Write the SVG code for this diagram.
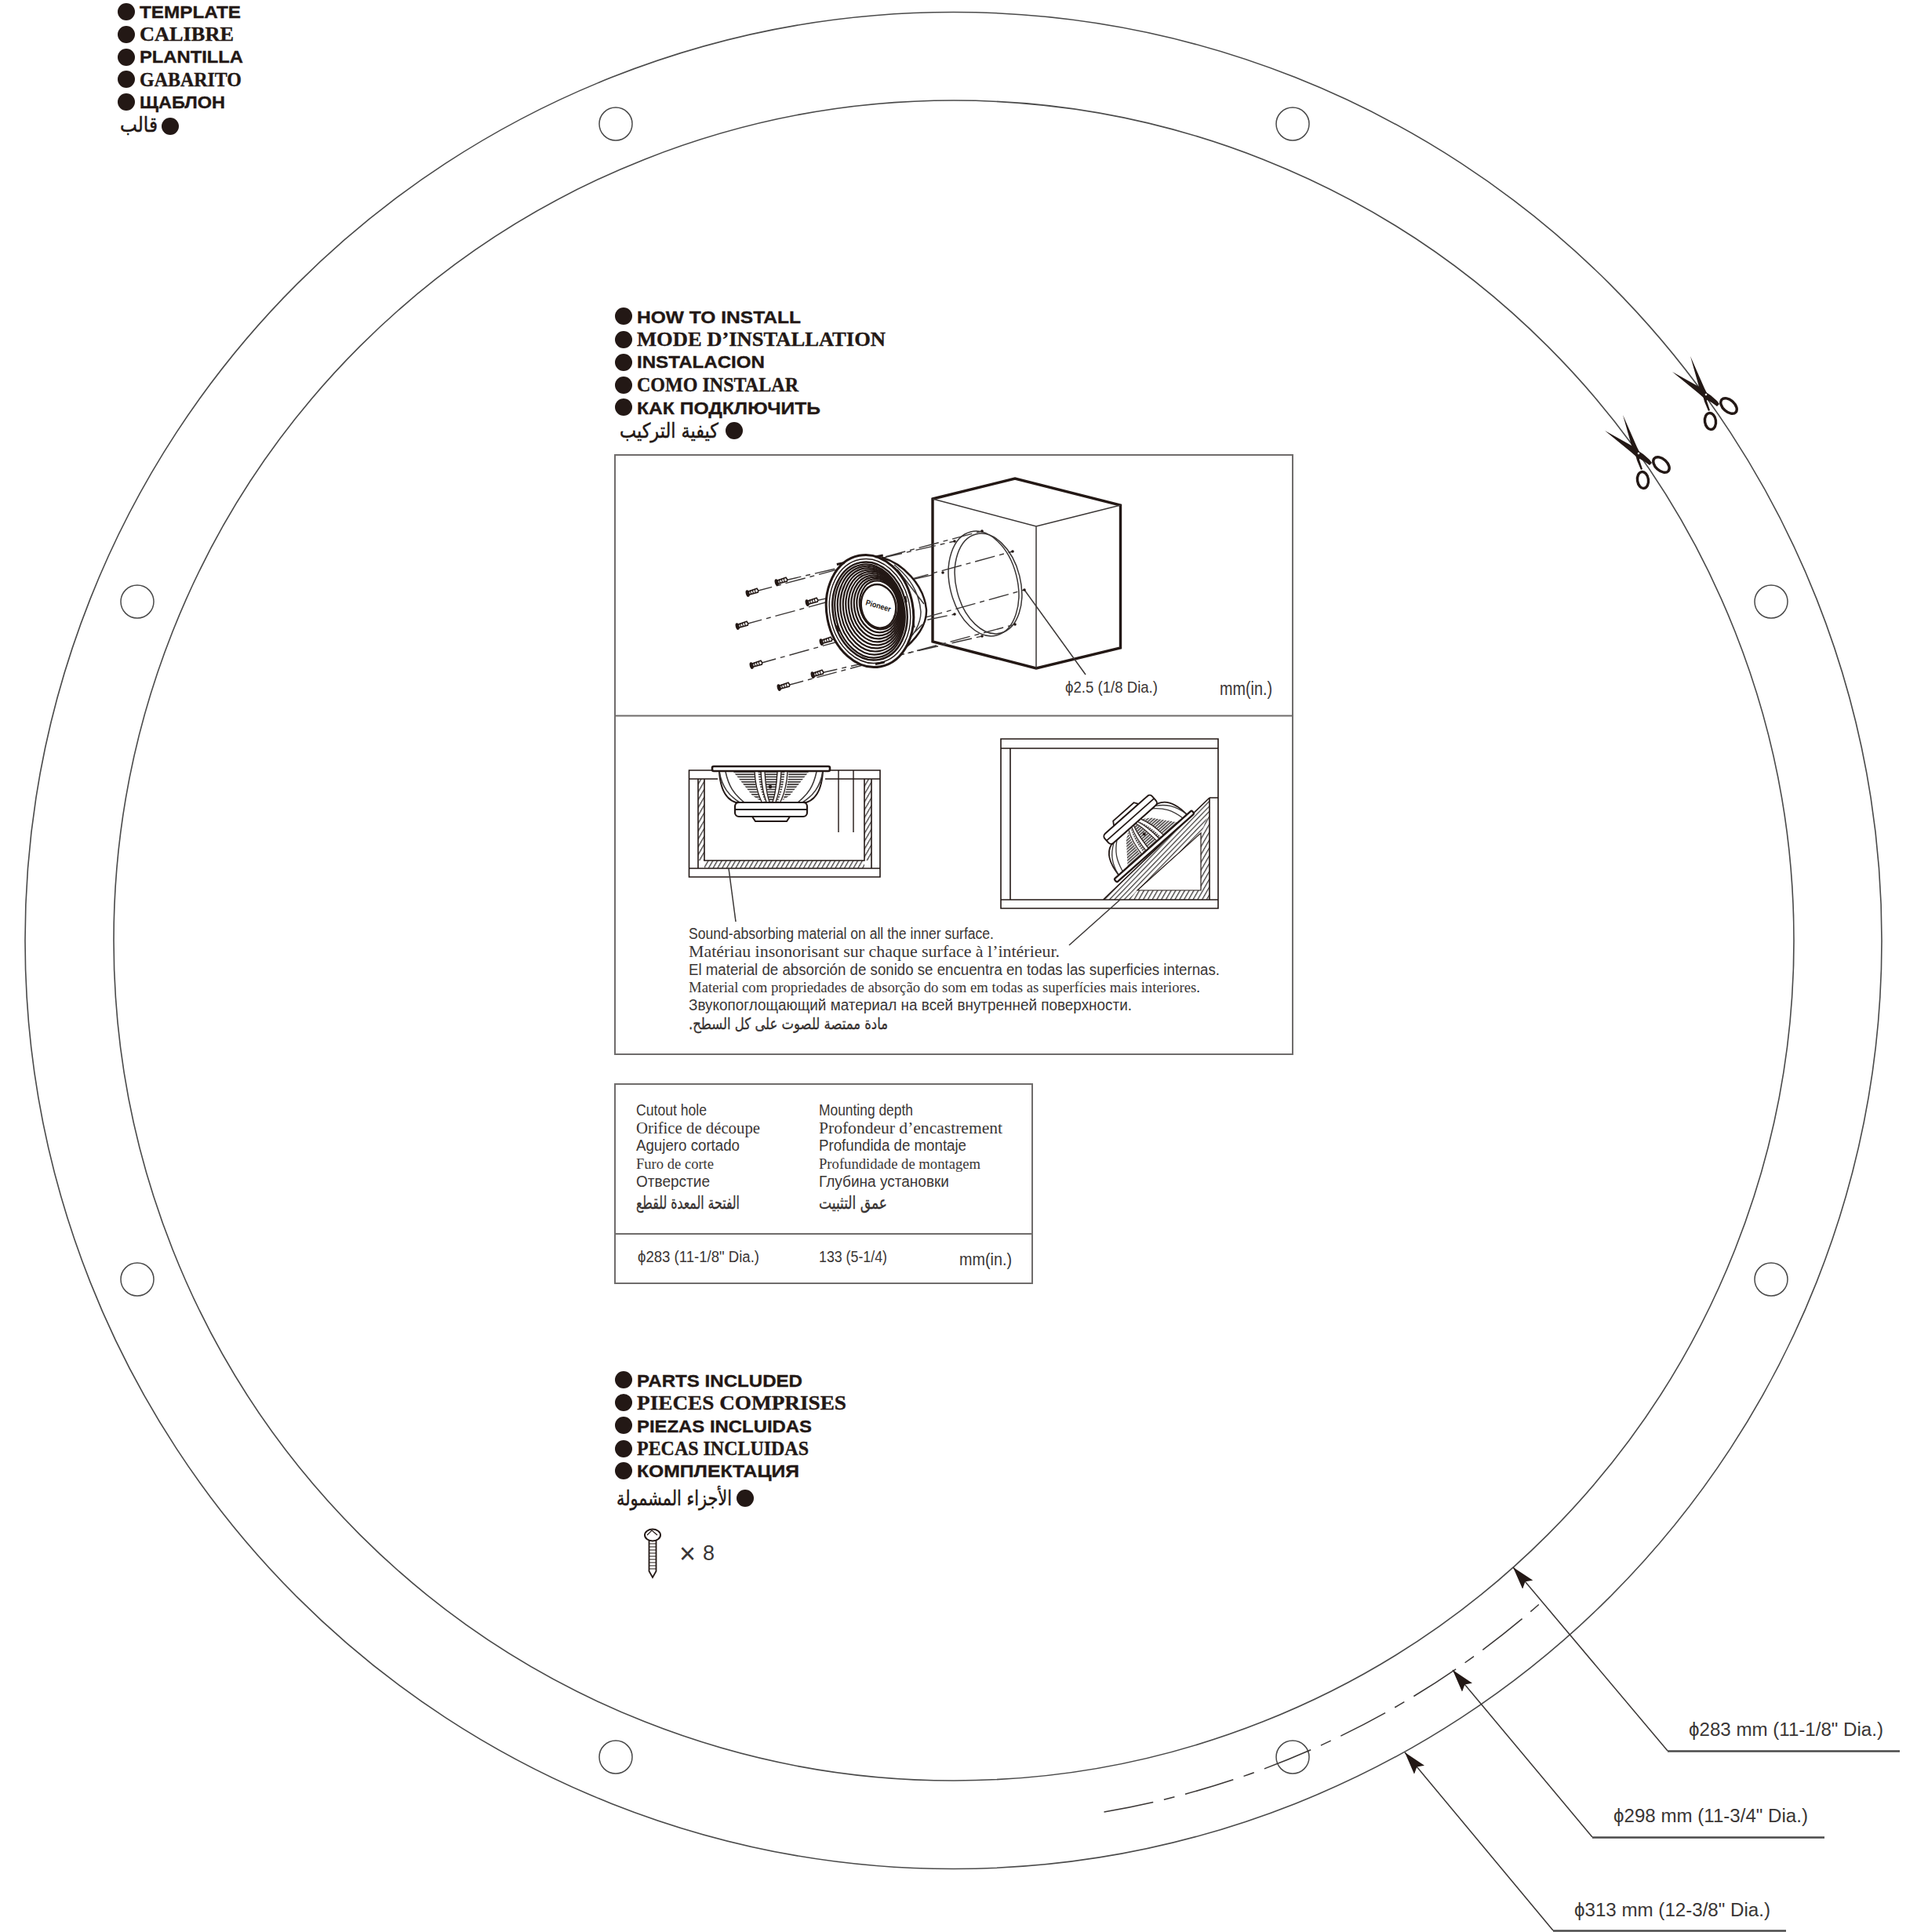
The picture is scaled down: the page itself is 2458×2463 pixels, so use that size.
<svg xmlns="http://www.w3.org/2000/svg" xmlns:xlink="http://www.w3.org/1999/xlink" width="2458" height="2463" viewBox="0 0 2458 2463">
<style>
text{fill:#231815}
.s{font-family:"Liberation Sans","DejaVu Sans",sans-serif}
.t{font-family:"Liberation Serif","DejaVu Serif",serif}
.a{font-family:"DejaVu Sans",sans-serif}
.h{font-size:22px;font-weight:bold;stroke:#231815;stroke-width:.35}
.t.h{font-size:25px}
.ah{font-size:26px;stroke:#231815;stroke-width:.5}
.b{font-size:20px;fill:#3a3635}
.d{font-size:23px;fill:#3a3635}
.ring{fill:none;stroke:#4a4a4a;stroke-width:1.6}
.hole{fill:#fff;stroke:#4a4a4a;stroke-width:1.5}
.box{fill:none;stroke:#6f6c6b;stroke-width:2}
.ln{fill:none;stroke:#3a3635;stroke-width:1.5}
.lk{fill:none;stroke:#231815;stroke-width:2}
.th{fill:#fff;stroke:#231815;stroke-width:3.4}
.dd{fill:none;stroke:#3a3635;stroke-width:1.4;stroke-dasharray:26 6 6 6}
.bul{fill:#231815}
</style>
<defs>
<marker id="arr" markerUnits="userSpaceOnUse" markerWidth="30" markerHeight="18" refX="29" refY="9" orient="auto"><path d="M0,0.500 L29,9 L0,17.500 L5,9z" fill="#231815"/></marker>
<pattern id="h1" width="5" height="5" patternUnits="userSpaceOnUse" patternTransform="rotate(30)"><rect width="5" height="5" fill="#fff"/><rect width="1.3" height="5" fill="#3a3635"/></pattern>
<pattern id="h3" width="4.500" height="4.500" patternUnits="userSpaceOnUse" patternTransform="rotate(-46)"><rect width="4.500" height="4.500" fill="#fff"/><rect width="4.500" height="1.200" fill="#3a3635"/></pattern>
<pattern id="h2" width="3.200" height="3.200" patternUnits="userSpaceOnUse"><rect width="3.200" height="3.200" fill="#fff"/><rect width="3.200" height="1.700" fill="#3a3635"/></pattern>
<g id="scrw">
<path d="M-6,-2 L7,-3 L8,0 L7,2 L-6,2z" fill="#fff" stroke="#231815" stroke-width="1.6"/>
<ellipse cx="-6" cy="0" rx="2.4" ry="4.4" fill="#231815"/>
<path d="M-2,-3V2M1,-3V2M4,-3V2" stroke="#231815" stroke-width="1.2"/>
</g>
<g id="spk">
<path d="M-66,3 C-65,22 -60,38 -45,43 L45,43 C60,38 65,22 66,3z" fill="#fff" stroke="#231815" stroke-width="2"/>
<path d="M-48,4 L-24,34 L-12,42 L12,42 L24,34 L48,4z" fill="url(#h2)"/>
<path d="M-62,4 C-58,22 -52,32 -38,42 M62,4 C58,22 52,32 38,42" fill="none" stroke="#fff" stroke-width="4"/>
<path d="M-66,4 C-62,24 -54,34 -40,43 M-58,4 C-54,22 -48,32 -34,43 M66,4 C62,24 54,34 40,43 M58,4 C54,22 48,32 34,43" class="ln"/>
<path d="M-19,4 C-18,20 -15,32 -10,42 M-10,4 C-9,20 -8,32 -4,42 M11,4 C10,20 9,32 4,42 M20,4 C19,20 16,32 11,42" fill="none" stroke="#fff" stroke-width="5"/>
<path d="M-21,4 C-20,20 -17,32 -12,42 M-13,4 C-12,20 -10,32 -6,42 M-8,4 C-7,20 -6,32 -2,42 M8,4 C7,20 6,32 2,42 M13,4 C12,20 10,32 6,42 M21,4 C20,20 17,32 12,42" class="lk" style="stroke-width:1.3"/>
<circle cx="-1" cy="23" r="2.2" fill="#231815"/>
<path d="M-24,61 H24 L20,67 H-20z" fill="#fff" stroke="#231815" stroke-width="2"/>
<rect x="-46" y="43" width="92" height="18" rx="5" fill="#fff" stroke="#231815" stroke-width="2.2"/>
<path d="M-46,52 H46" class="lk"/>
<rect x="-75" y="-3" width="150" height="6" rx="2" fill="#fff" stroke="#231815" stroke-width="2.6"/>
</g>
<g id="sci" fill="#231815">
<path d="M-20,-49 L-2,-8 L2,0 L1,8 L5,20 L3,21 L-2,9 L-5,-2 L-9,-10z"/>
<path d="M-43,-29 L-9,-10 L0,-3 L6,1 L14,8 L17,12 L14,15 L7,10 L-2,5 L-10,-2z"/>
<ellipse cx="29" cy="14.500" rx="12" ry="7.500" transform="rotate(42 29 14.500)" fill="none" stroke="#231815" stroke-width="3.400"/>
<ellipse cx="5.500" cy="34" rx="7" ry="10.500" transform="rotate(-8 5.500 34)" fill="none" stroke="#231815" stroke-width="3.400"/>
<circle cx="0" cy="0" r="1.300" fill="#fff"/>
</g>
</defs>
<rect width="2458" height="2463" fill="#fff"/>

<g id="template-rings">
<circle class="ring" cx="1215.500" cy="1199" r="1183.500"/>
<circle class="ring" cx="1216" cy="1199" r="1071"/>
</g>

<g id="holes">
<circle class="hole" cx="785" cy="158" r="21"/><circle class="hole" cx="1648" cy="158" r="21"/>
<circle class="hole" cx="175" cy="767" r="21"/><circle class="hole" cx="2258" cy="767" r="21"/>
<circle class="hole" cx="175" cy="1631" r="21"/><circle class="hole" cx="2258" cy="1631" r="21"/>
<circle class="hole" cx="785" cy="2240" r="21"/><circle class="hole" cx="1648" cy="2240" r="21"/>
</g>

<g id="connectors">
<path d="M1407.500,2310 A1128,1128 0 0 0 1968,2040" fill="none" stroke="#3a3635" stroke-width="1.5" stroke-dasharray="64 14 14 14"/>
<path class="ln" d="M2126,2232 L1929,1998" marker-end="url(#arr)"/>
<path class="ln" d="M2030,2342 L1852,2129" marker-end="url(#arr)"/>
<path class="ln" d="M1980,2461 L1791,2234" marker-end="url(#arr)"/>
<path d="M2126,2232.500 H2422 M2030,2342.500 H2326 M1980,2461.500 H2277" stroke="#4a4a4a" stroke-width="2.400" fill="none"/>
</g>

<g id="scissors">
<use xlink:href="#sci" href="#sci" transform="translate(2089,578)"/>
<use xlink:href="#sci" href="#sci" transform="translate(2175,503)"/>
</g>

<g id="title-template">
<circle class="bul" cx="161" cy="15" r="11"/><circle class="bul" cx="161" cy="44" r="11"/><circle class="bul" cx="161" cy="73" r="11"/><circle class="bul" cx="161" cy="101" r="11"/><circle class="bul" cx="161" cy="130" r="11"/><circle class="bul" cx="217" cy="161" r="11"/>
<text class="s h" x="178" y="23" textLength="129" lengthAdjust="spacingAndGlyphs">TEMPLATE</text>
<text class="t h" x="178" y="52" textLength="120" lengthAdjust="spacingAndGlyphs">CALIBRE</text>
<text class="s h" x="178" y="80" textLength="132" lengthAdjust="spacingAndGlyphs">PLANTILLA</text>
<text class="t h" x="178" y="110" textLength="130" lengthAdjust="spacingAndGlyphs">GABARITO</text>
<text class="s h" x="178" y="138" textLength="109" lengthAdjust="spacingAndGlyphs">ЩАБЛОН</text>
<text class="a ah" x="153" y="168" textLength="48" lengthAdjust="spacingAndGlyphs">قالب</text>
</g>

<g id="title-install">
<circle class="bul" cx="795" cy="403" r="11"/><circle class="bul" cx="795" cy="433" r="11"/><circle class="bul" cx="795" cy="462" r="11"/><circle class="bul" cx="795" cy="491" r="11"/><circle class="bul" cx="795" cy="519" r="11"/><circle class="bul" cx="936" cy="549" r="11"/>
<text class="s h" x="812" y="412" textLength="209" lengthAdjust="spacingAndGlyphs">HOW TO INSTALL</text>
<text class="t h" x="812" y="441" textLength="317" lengthAdjust="spacingAndGlyphs">MODE D’INSTALLATION</text>
<text class="s h" x="812" y="469" textLength="163" lengthAdjust="spacingAndGlyphs">INSTALACION</text>
<text class="t h" x="812" y="499" textLength="206" lengthAdjust="spacingAndGlyphs">COMO INSTALAR</text>
<text class="s h" x="812" y="528" textLength="234" lengthAdjust="spacingAndGlyphs">КАК ПОДКЛЮЧИТЬ</text>
<text class="a ah" x="790" y="558" textLength="126" lengthAdjust="spacingAndGlyphs">كيفية التركيب</text>
</g>

<g id="install-panel">
<rect class="box" x="784" y="580" width="864" height="764"/>
<path class="box" d="M784,912.500 H1648"/>
</g>

<g id="cabinet-exploded">
<path class="dd" d="M1035,767 L1202,730"/>
<path class="th" d="M1189,636 L1294,610 L1428.500,644 V826 L1321,852 L1189,818z"/>
<path class="ln" d="M1189,636 L1321,671 L1428.500,644 M1321,671 V852"/>
<ellipse class="ln" cx="1254" cy="744" rx="43" ry="68" transform="rotate(-14 1254 744)"/>
<ellipse class="ln" cx="1260" cy="744" rx="41" ry="65" transform="rotate(-14 1260 744)"/>
<path class="dd" d="M959,755 L1252,677"/>
<path class="dd" d="M996,741 L1217,690"/>
<path class="dd" d="M946,797 L1291,703"/>
<path class="dd" d="M1053,817 L1217,783"/>
<path class="dd" d="M964,847 L1306,752"/>
<path class="dd" d="M1042,859 L1252,811"/>
<path class="dd" d="M999,875 L1294,796"/>
<path class="ln" d="M1306,752 L1384,860"/>
<circle cx="1252" cy="677" r="1.800" fill="#231815"/><circle cx="1217" cy="690" r="1.800" fill="#231815"/><circle cx="1291" cy="703" r="1.800" fill="#231815"/><circle cx="1202" cy="730" r="1.800" fill="#231815"/><circle cx="1217" cy="783" r="1.800" fill="#231815"/><circle cx="1306" cy="752" r="1.800" fill="#231815"/><circle cx="1252" cy="811" r="1.800" fill="#231815"/><circle cx="1294" cy="796" r="1.800" fill="#231815"/>
<g transform="rotate(-15 959 755)"><use xlink:href="#scrw" href="#scrw" x="959" y="755"/></g>
<g transform="rotate(-15 996 741)"><use xlink:href="#scrw" href="#scrw" x="996" y="741"/></g>
<g transform="rotate(-15 1035 767)"><use xlink:href="#scrw" href="#scrw" x="1035" y="767"/></g>
<g transform="rotate(-15 946 797)"><use xlink:href="#scrw" href="#scrw" x="946" y="797"/></g>
<g transform="rotate(-15 1053 817)"><use xlink:href="#scrw" href="#scrw" x="1053" y="817"/></g>
<g transform="rotate(-15 964 847)"><use xlink:href="#scrw" href="#scrw" x="964" y="847"/></g>
<g transform="rotate(-15 1042 859)"><use xlink:href="#scrw" href="#scrw" x="1042" y="859"/></g>
<g transform="rotate(-15 999 875)"><use xlink:href="#scrw" href="#scrw" x="999" y="875"/></g>
<path d="M1125,711 C1150,718 1178,745 1181,777 C1182,795 1170,815 1145,833z" fill="#fff" stroke="#231815" stroke-width="2.400"/>
<path d="M1140,720 C1160,736 1172,756 1174,780 C1174,796 1164,812 1150,824 M1153,738 L1166,800 M1144,726 L1178,770 M1146,826 L1176,796" class="ln"/>
<g transform="translate(3,-1) rotate(-11 1106 780)">
<ellipse cx="1106" cy="780" rx="55" ry="72" fill="#fff" stroke="#231815" stroke-width="3"/>
<ellipse cx="1106" cy="780" rx="51" ry="67" fill="none" stroke="#231815" stroke-width="1.400"/>
<ellipse cx="1106" cy="780" rx="47" ry="63" fill="none" stroke="#231815" stroke-width="2.400"/>
<g fill="#fff" stroke="#231815" stroke-width="2.200">
<ellipse cx="1106" cy="780" rx="44" ry="60"/><ellipse cx="1107.400" cy="779.400" rx="41.800" ry="56.800"/><ellipse cx="1108.800" cy="778.800" rx="39.600" ry="53.600"/><ellipse cx="1110.200" cy="778.200" rx="37.400" ry="50.400"/><ellipse cx="1111.600" cy="777.600" rx="35.200" ry="47.200"/><ellipse cx="1113" cy="777" rx="33" ry="44"/><ellipse cx="1114.400" cy="776.400" rx="30.800" ry="40.800"/><ellipse cx="1115.800" cy="775.800" rx="28.600" ry="37.600"/><ellipse cx="1117.200" cy="775.200" rx="26.400" ry="34.400"/><ellipse cx="1118.600" cy="774.600" rx="24.200" ry="31.200"/><ellipse cx="1118" cy="776" rx="22" ry="28" stroke-width="2.400"/>
</g>
<g fill="#231815"><rect x="1076" y="712" width="10" height="3"/><rect x="1126" y="712" width="10" height="3"/><rect x="1100" y="846" width="12" height="3"/><rect x="1060" y="790" width="3" height="8"/><rect x="1152" y="770" width="3" height="8"/></g>
</g>
<text class="s" font-size="10" font-weight="bold" x="1103" y="771" textLength="33" lengthAdjust="spacingAndGlyphs" transform="rotate(16 1103 771)">Pioneer</text>
<text class="s" style="font-size:21px;fill:#3a3635" x="1358" y="883" textLength="118" lengthAdjust="spacingAndGlyphs">ϕ2.5 (1/8 Dia.)</text>
<text class="s" style="font-size:23px;fill:#3a3635" x="1555" y="886" textLength="67" lengthAdjust="spacingAndGlyphs">mm(in.)</text>
</g>

<g id="cabinet-left">
<rect x="890" y="993" width="8" height="104" fill="url(#h1)"/><rect x="1102" y="993" width="9" height="104" fill="url(#h1)"/>
<rect x="898" y="1097" width="204" height="10" fill="url(#h1)"/>
<path class="lk" style="stroke-width:1.600" d="M915,982 H878.500 V1118 H1122 V982 H1052 M878.500,993 H915 M1052,993 H1122 M878.500,1107 H1122 M890,993 V1107 M898,993 V1097 H1102 V993 M1111,993 V1107"/>
<path class="lk" style="stroke-width:1.400" d="M1069,982 V1061 M1088,982 V1061"/>
<use xlink:href="#spk" href="#spk" transform="translate(983,980)"/>
<path class="ln" d="M929,1107 L938,1175"/>
</g>

<g id="cabinet-right">
<path d="M1429,1147 L1542,1035 V1147 z" fill="url(#h1)"/>
<path d="M1406.500,1147 L1542,1017 V1035 L1531,1062 L1450,1135 L1440,1147 z" fill="url(#h3)"/>
<path d="M1450,1135 H1531 V1062z" fill="#fff" stroke="#231815" stroke-width="1.200"/>
<path class="lk" style="stroke-width:1.600" d="M1276,942 H1553 V1158 H1276z M1276,954 H1553 M1276,1147 H1553 M1288,954 V1147 M1542,1017 H1553 M1542,1017 V1147 M1406.500,1147 L1542,1017"/>
<use xlink:href="#spk" href="#spk" transform="translate(1471.500,1079) rotate(138.400) scale(0.880)"/>
<path class="ln" d="M1428,1147 L1363,1205"/>
</g>

<g id="absorb-text">
<text class="s b" x="878" y="1197" textLength="389" lengthAdjust="spacingAndGlyphs">Sound-absorbing material on all the inner surface.</text>
<text class="t b" style="font-size:21px" x="878" y="1220" textLength="473" lengthAdjust="spacingAndGlyphs">Matériau insonorisant sur chaque surface à l’intérieur.</text>
<text class="s b" x="878" y="1243" textLength="677" lengthAdjust="spacingAndGlyphs">El material de absorción de sonido se encuentra en todas las superficies internas.</text>
<text class="t b" style="font-size:18px" x="878" y="1265" textLength="652" lengthAdjust="spacingAndGlyphs">Material com propriedades de absorção do som em todas as superfícies mais interiores.</text>
<text class="s b" x="878" y="1288" textLength="565" lengthAdjust="spacingAndGlyphs">Звукопоглощающий материал на всей внутренней поверхности.</text>
<text class="a b" style="stroke:#231815;stroke-width:.3" x="878" y="1312" textLength="254" lengthAdjust="spacingAndGlyphs">مادة ممتصة للصوت على كل السطح.&#x200F;</text>
</g>

<g id="spec-table">
<rect class="box" x="784" y="1382" width="532" height="254"/>
<path class="box" d="M784,1573 H1316"/>
<text class="s b" x="811" y="1422" textLength="90" lengthAdjust="spacingAndGlyphs">Cutout hole</text>
<text class="t b" x="811" y="1445" textLength="158" lengthAdjust="spacingAndGlyphs">Orifice de découpe</text>
<text class="s b" x="811" y="1467" textLength="132" lengthAdjust="spacingAndGlyphs">Agujero cortado</text>
<text class="t b" style="font-size:18px" x="811" y="1490" textLength="99" lengthAdjust="spacingAndGlyphs">Furo de corte</text>
<text class="s b" x="811" y="1513" textLength="94" lengthAdjust="spacingAndGlyphs">Отверстие</text>
<text class="a b" style="font-size:22px;stroke:#231815;stroke-width:.3" x="811" y="1541" textLength="132" lengthAdjust="spacingAndGlyphs">الفتحة المعدة للقطع</text>
<text class="s b" x="1044" y="1422" textLength="120" lengthAdjust="spacingAndGlyphs">Mounting depth</text>
<text class="t b" x="1044" y="1445" textLength="234" lengthAdjust="spacingAndGlyphs">Profondeur d’encastrement</text>
<text class="s b" x="1044" y="1467" textLength="188" lengthAdjust="spacingAndGlyphs">Profundida de montaje</text>
<text class="t b" style="font-size:18px" x="1044" y="1490" textLength="206" lengthAdjust="spacingAndGlyphs">Profundidade de montagem</text>
<text class="s b" x="1044" y="1513" textLength="166" lengthAdjust="spacingAndGlyphs">Глубина установки</text>
<text class="a b" style="font-size:22px;stroke:#231815;stroke-width:.3" x="1044" y="1541" textLength="87" lengthAdjust="spacingAndGlyphs">عمق التثبيت</text>
<text class="s b" x="813" y="1609" textLength="155" lengthAdjust="spacingAndGlyphs">ϕ283 (11-1/8" Dia.)</text>
<text class="s b" x="1044" y="1609" textLength="87" lengthAdjust="spacingAndGlyphs">133 (5-1/4)</text>
<text class="s" style="font-size:22px;fill:#3a3635" x="1223" y="1613" textLength="67" lengthAdjust="spacingAndGlyphs">mm(in.)</text>
</g>

<g id="title-parts">
<circle class="bul" cx="795" cy="1759" r="11"/><circle class="bul" cx="795" cy="1788" r="11"/><circle class="bul" cx="795" cy="1817" r="11"/><circle class="bul" cx="795" cy="1847" r="11"/><circle class="bul" cx="795" cy="1875" r="11"/><circle class="bul" cx="950" cy="1910" r="11"/>
<text class="s h" x="812" y="1768" textLength="211" lengthAdjust="spacingAndGlyphs">PARTS INCLUDED</text>
<text class="t h" x="812" y="1797" textLength="267" lengthAdjust="spacingAndGlyphs">PIECES COMPRISES</text>
<text class="s h" x="812" y="1826" textLength="223" lengthAdjust="spacingAndGlyphs">PIEZAS INCLUIDAS</text>
<text class="t h" x="812" y="1855" textLength="219" lengthAdjust="spacingAndGlyphs">PECAS INCLUIDAS</text>
<text class="s h" x="812" y="1883" textLength="207" lengthAdjust="spacingAndGlyphs">КОМПЛЕКТАЦИЯ</text>
<text class="a ah" x="786" y="1919" textLength="147" lengthAdjust="spacingAndGlyphs">الأجزاء المشمولة</text>
</g>

<g id="screw-part">
<path d="M827.500,1964 V2003 L832,2011 L836.500,2003 V1964" fill="#fff" stroke="#231815" stroke-width="1.800"/>
<path d="M827.500,1968h9M827.500,1972h9M827.500,1976h9M827.500,1980h9M827.500,1984h9M827.500,1988h9M827.500,1992h9M827.500,1996h9M827.500,2000h9" stroke="#231815" stroke-width="1.200"/>
<ellipse cx="832" cy="1957" rx="10" ry="7.500" fill="#fff" stroke="#231815" stroke-width="2"/>
<path d="M825,1957 L831,1951 L838,1957" fill="none" stroke="#231815" stroke-width="1.200"/>
<text class="s" style="font-size:27px;fill:#3a3635"><tspan x="866" y="1993" style="font-size:36px;font-weight:normal">×</tspan> <tspan x="896" y="1989">8</tspan></text>
</g>

<g id="dim-labels">
<text class="s d" x="2153" y="2213" textLength="248" lengthAdjust="spacingAndGlyphs">ϕ283 mm (11-1/8" Dia.)</text>
<text class="s d" x="2057" y="2323" textLength="248" lengthAdjust="spacingAndGlyphs">ϕ298 mm (11-3/4" Dia.)</text>
<text class="s d" x="2007" y="2443" textLength="250" lengthAdjust="spacingAndGlyphs">ϕ313 mm (12-3/8" Dia.)</text>
</g>
</svg>
